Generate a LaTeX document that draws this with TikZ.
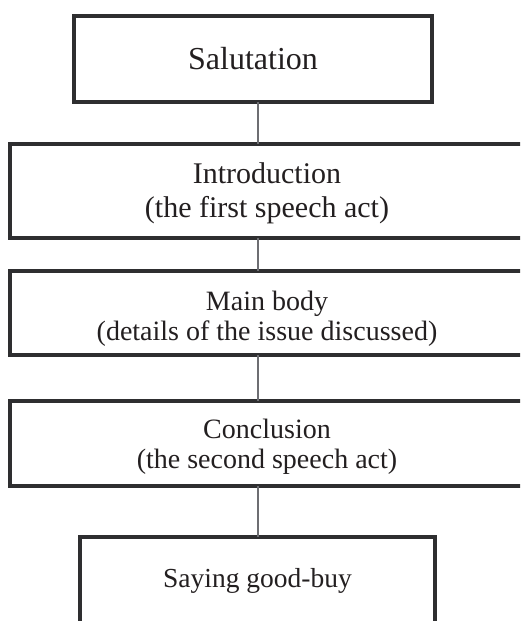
\documentclass[tikz,border=0pt]{standalone}
\usepackage{fontspec}
\setmainfont{Liberation Serif}
\definecolor{boxline}{HTML}{2E2E30}
\definecolor{connline}{HTML}{6D6E72}
\definecolor{txt}{HTML}{231F20}
\newcommand{\lowtext}[2]{\raisebox{-#1}[\height][\depth]{\begin{tabular}{@{}c@{}}#2\end{tabular}}}
\tikzset{
  stagebox/.style={draw=boxline, line width=3.5pt, fill=white, inner sep=0pt, outer sep=0pt,
    align=center, text=txt, rectangle},
  conn/.style={draw=connline, line width=2.4pt}
}
\begin{document}
\begin{tikzpicture}[x=1pt,y=-1pt]
\useasboundingbox (0,0) rectangle (520,621);
\clip (0,0) rectangle (520,621);
\fill[white] (0,0) rectangle (520,621);
\coordinate (cx) at (258,0);
\node[stagebox, minimum width=358pt, minimum height=86pt, font=\fontsize{32}{36}\selectfont] (sal) at (253,59) {Salutation};
\node[stagebox, minimum width=514pt, minimum height=94pt, font=\fontsize{30}{34}\selectfont] (intro) at (267,191) {\lowtext{3pt}{Introduction\\(the first speech act)}};
\node[stagebox, minimum width=514pt, minimum height=84pt, font=\fontsize{28}{30}\selectfont] (main) at (267,313) {\lowtext{6pt}{Main body\\(details of the issue discussed)}};
\node[stagebox, minimum width=514pt, minimum height=85pt, font=\fontsize{28}{30}\selectfont] (concl) at (267,443.5) {\lowtext{4pt}{Conclusion\\(the second speech act)}};
\node[stagebox, minimum width=355pt, minimum height=88pt, font=\fontsize{27.5}{30}\selectfont] (bye) at (257.5,581) {Saying good-buy};
\draw[conn] (sal.south -| cx) -- (intro.north -| cx);
\draw[conn] (intro.south -| cx) -- (main.north -| cx);
\draw[conn] (main.south -| cx) -- (concl.north -| cx);
\draw[conn] (concl.south -| cx) -- (bye.north -| cx);
\end{tikzpicture}
\end{document}
